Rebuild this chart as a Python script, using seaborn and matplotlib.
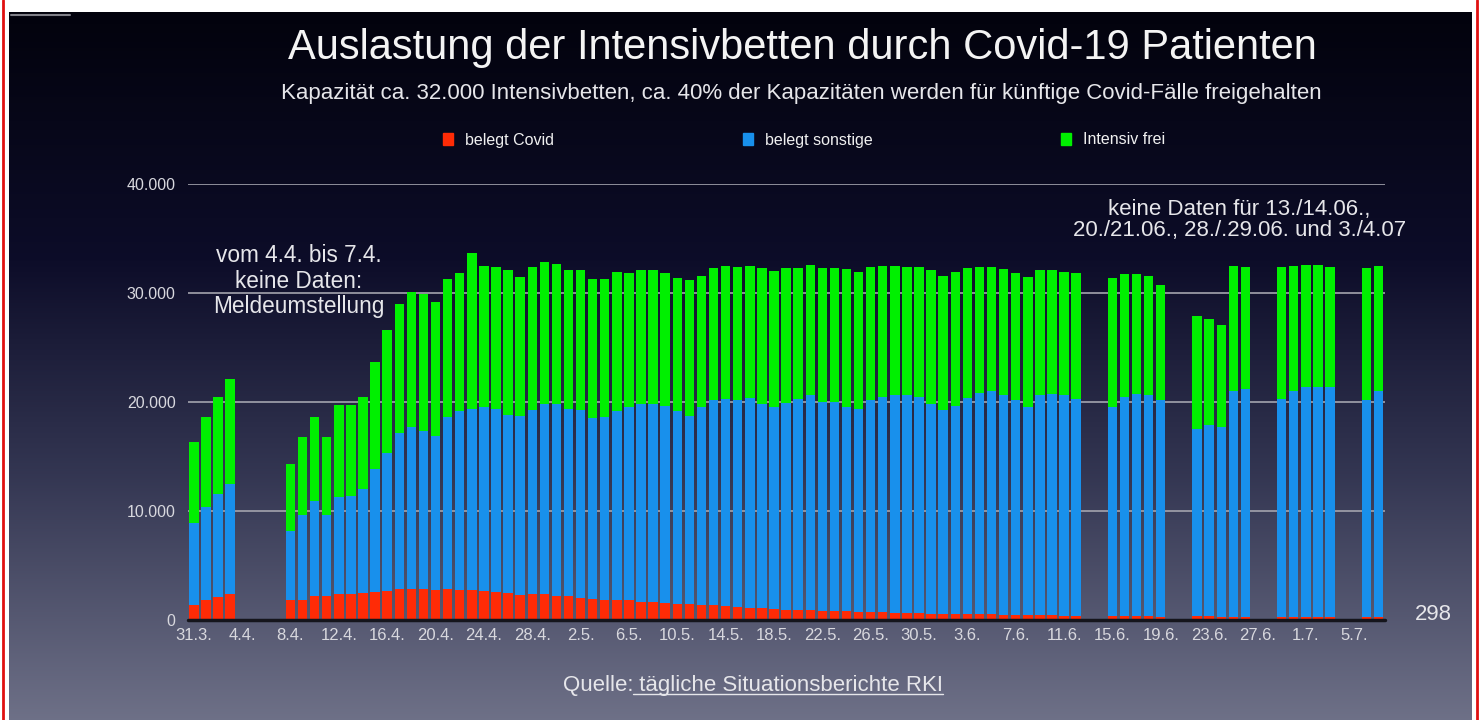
import numpy as np
import pandas as pd
import matplotlib
matplotlib.use('Agg')
import matplotlib.pyplot as plt
from matplotlib.colors import LinearSegmentedColormap
import seaborn as sns

W, H = 1479, 720

# one slot per day, 31.3. -> 7.7.; None = keine Daten
BELEGT_COVID = [
    1400, 1840, 2080, 2420, None, None, None, None,
    1840, 1840, 2200, 2200, 2390, 2390, 2450, 2600, 2700, 2850,
    2850, 2850, 2760, 2820, 2760, 2760, 2630, 2540, 2450, 2300,
    2390, 2360, 2200, 2200, 2050, 1930, 1840, 1840, 1840, 1680,
    1620, 1530, 1500, 1470, 1420, 1380, 1290, 1230, 1130, 1100,
    980, 960, 940, 900, 850, 800, 780, 750, 700, 700,
    680, 660, 630, 570, 560, 560, 550, 540, 530, 460,
    450, 440, 430, 420, 410, 330, None, None,
    380, 370, 360, 370, 300, None, None,
    330, 330, 320, 320, 320, None, None,
    310, 310, 300, 300, 300, None, None,
    300, 298,
]
BELEGT_SONSTIGE = [
    7500, 8510, 9470, 10050, None, None, None, None,
    6280, 7750, 8760, 7400, 8880, 9010, 9550, 11240, 12600, 14300,
    14850, 14520, 14140, 15780, 16410, 16640, 16870, 16860, 16390, 16400,
    16910, 17440, 17600, 17200, 17250, 16570, 16760, 17360, 17660, 18120,
    18180, 18130, 17700, 17270, 18080, 18820, 18980, 18970, 19240, 18700,
    18520, 18940, 19360, 19700, 19150, 19200, 18760, 18650, 19500, 19800,
    19920, 19940, 19830, 19280, 18740, 19040, 19820, 20290, 20450, 20140,
    19750, 19060, 20170, 20350, 20190, 19970, None, None,
    19160, 20060, 20410, 20300, 19900, None, None,
    17220, 17570, 17380, 20680, 20880, None, None,
    19990, 20690, 21100, 21100, 21050, None, None,
    19900, 20700,
]
INTENSIV_FREI = [
    7400, 8250, 8950, 9680, None, None, None, None,
    6150, 7210, 7640, 7200, 8480, 8350, 8500, 9860, 11300, 11850,
    12400, 12580, 12300, 12700, 12630, 14260, 12950, 13000, 13230, 12800,
    13100, 13060, 12900, 12670, 12770, 12800, 12700, 12700, 12300, 12270,
    12270, 12140, 12160, 12410, 12100, 12050, 12200, 12200, 12100, 12450,
    12500, 12350, 12000, 11950, 12250, 12250, 12620, 12500, 12200, 12000,
    11900, 11800, 11940, 12220, 12300, 12340, 11880, 11570, 11420, 11560,
    11600, 12000, 11470, 11300, 11340, 11500, None, None,
    11860, 11270, 10930, 10930, 10500, None, None,
    10350, 9700, 9400, 11500, 11200, None, None,
    12100, 11500, 11200, 11200, 11050, None, None,
    12100, 11500,
]
TICK_LABELS = ['31.3.', '4.4.', '8.4.', '12.4.', '16.4.', '20.4.', '24.4.',
               '28.4.', '2.5.', '6.5.', '10.5.', '14.5.', '18.5.', '22.5.',
               '26.5.', '30.5.', '3.6.', '7.6.', '11.6.', '15.6.', '19.6.',
               '23.6.', '27.6.', '1.7.', '5.7.']
Y_TICKS = [0, 10000, 20000, 30000, 40000]
Y_LABELS = ['0', '10.000', '20.000', '30.000', '40.000']

RED = '#ff2b06'
BLUE = '#1890ec'
GREEN = '#00f000'
TXT = '#e6e6ea'


def build_frame():
    df = pd.DataFrame({'covid': BELEGT_COVID,
                       'sonstige': BELEGT_SONSTIGE,
                       'frei': INTENSIV_FREI}, dtype=float)
    df['slot'] = np.arange(len(df))
    df = df.dropna()
    df['belegt'] = df['covid'] + df['sonstige']
    df['total'] = df['belegt'] + df['frei']
    return df


def background(fig):
    bg = fig.add_axes([0, 0, 1, 1])
    bg.set_xlim(0, 1)
    bg.set_ylim(0, 1)
    bg.axis('off')
    cmap = LinearSegmentedColormap.from_list('bg', [
        (0.0, (0.43, 0.44, 0.53)),
        (0.35, (0.20, 0.21, 0.32)),
        (0.65, (0.05, 0.05, 0.16)),
        (1.0, (0.01, 0.01, 0.05))])
    grad = np.linspace(0, 1, 256).reshape(-1, 1)
    bg.imshow(grad, cmap=cmap, aspect='auto', origin='lower',
              extent=[9 / W, 1472 / W, 0, 1 - 12 / H])
    bg.plot([3 / W, 3 / W], [0, 1], color='#e01010', lw=2)
    bg.plot([1477 / W, 1477 / W], [0, 1], color='#e01010', lw=2)
    bg.plot([11 / W, 70 / W], [1 - 15 / H, 1 - 15 / H], color='#808088', lw=1.5)
    return bg


def main():
    sns.set_theme(style='white')
    plt.rcParams['font.family'] = ['Liberation Sans', 'DejaVu Sans']
    df = build_frame()

    fig = plt.figure(figsize=(W / 100, H / 100), dpi=100, facecolor='white')
    background(fig)

    ax = fig.add_axes([188 / W, 100 / H, 1197 / W, 436 / H])
    ax.patch.set_alpha(0)
    for col, color in [('total', GREEN), ('belegt', BLUE), ('covid', RED)]:
        sns.barplot(data=df, x='slot', y=col, color=color, native_scale=True,
                    width=0.78, errorbar=None, saturation=1, linewidth=0,
                    ax=ax)

    ax.set_xlim(-0.48, 98.55)
    ax.set_ylim(0, 40000)
    ax.set_xlabel('')
    ax.set_ylabel('')
    for s in ax.spines.values():
        s.set_visible(False)
    ax.set_axisbelow(True)
    ax.yaxis.grid(True, color='#a4a4ae', lw=1.2)
    ax.axhline(0, color='#15151c', lw=2.5, clip_on=False, zorder=5)
    ax.set_xticks(range(0, 97, 4))
    ax.set_xticklabels(TICK_LABELS)
    ax.set_yticks(Y_TICKS)
    ax.set_yticklabels(Y_LABELS)
    ax.tick_params(axis='x', length=0, pad=6, labelsize=12, colors='#d8d8de')
    ax.tick_params(axis='y', length=0, pad=9, labelsize=11.5, colors='#d8d8de')

    fig.text(802 / W, 1 - 48 / H,
             'Auslastung der Intensivbetten durch Covid-19 Patienten',
             ha='center', va='center', fontsize=30, color='#f4f4f4')
    fig.text(801 / W, 1 - 93 / H,
             'Kapazität ca. 32.000 Intensivbetten, ca. 40% der Kapazitäten '
             'werden für künftige Covid-Fälle freigehalten',
             ha='center', va='center', fontsize=16, color=TXT)

    handles = [plt.Rectangle((0, 0), 1, 1, color=c) for c in (RED, BLUE, GREEN)]
    fig.legend(handles, ['belegt Covid', 'belegt sonstige', 'Intensiv frei'],
               loc='center', bbox_to_anchor=(804 / W, 1 - 140 / H), ncol=3,
               frameon=False, fontsize=11.5, labelcolor='#f0f0f0',
               handlelength=0.63, handleheight=0.75, handletextpad=0.75,
               columnspacing=11.8)

    ax.text(8.7, 31100, 'vom 4.4. bis 7.4.\nkeine Daten:\nMeldeumstellung',
            ha='center', va='center', fontsize=16.3, color=TXT,
            linespacing=1.13)
    ax.text(86.5, 36700,
            'keine Daten für 13./14.06.,\n20./21.06., 28./.29.06. und 3./4.07',
            ha='center', va='center', fontsize=16, color=TXT,
            linespacing=1.03)
    fig.text(1433 / W, 1 - 615 / H, '298', ha='center', va='center',
             fontsize=16, color=TXT)

    x0 = 633 / W
    fig.text(x0, 1 - 685 / H, 'Quelle:', ha='right', va='center',
             fontsize=16, color=TXT)
    src = fig.text(x0, 1 - 685 / H, ' tägliche Situationsberichte RKI',
                   ha='left', va='center', fontsize=16, color=TXT)
    fig.canvas.draw()
    bb = src.get_window_extent().transformed(fig.transFigure.inverted())
    fig.lines.append(plt.Line2D([bb.x0, bb.x1], [bb.y0 + 0.002, bb.y0 + 0.002],
                                transform=fig.transFigure, color=TXT, lw=1))

    fig.savefig('out.png', dpi=100, facecolor=fig.get_facecolor())


if __name__ == '__main__':
    main()
